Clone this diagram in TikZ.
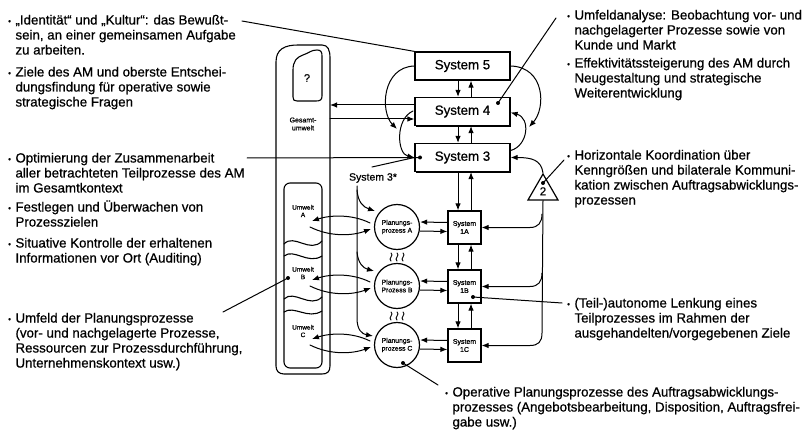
\documentclass[tikz,border=0pt]{standalone}
\usepackage{fontspec}
\setmainfont{Liberation Sans}[FakeBold=0.7]
\usetikzlibrary{arrows.meta,shadows,calc,shapes.geometric}
% hanging bullet and first-line strut for the text blocks
\newcommand{\bul}{\llap{\raisebox{0.6pt}{\fontsize{8}{8}\selectfont •}\hspace{4.5pt}}}
\newcommand{\fl}{\rule{0pt}{12pt}}

\begin{document}
\begin{tikzpicture}[x=1pt,y=1pt,line width=1pt,line cap=round,
  arr/.style={-{Latex[length=7pt,width=5.5pt]}},
  sysbox/.style={draw, fill=white, line width=1.2pt, minimum width=95pt,
    minimum height=28pt, inner sep=0pt, font=\fontsize{13.3}{15}\selectfont,
    general shadow={fill=black, shadow xshift=1.4pt, shadow yshift=-1.4pt}},
  subbox/.style={sysbox, minimum width=33pt, minimum height=33pt, align=center,
    font=\fontsize{7}{8}\selectfont},
  plan/.style={draw, circle, fill=white, line width=1.2pt, minimum size=45pt,
    inner sep=0pt, align=center, font=\fontsize{6.8}{7.8}\selectfont},
  txt/.style={anchor=north west, inner sep=0pt, align=left,
    font=\fontsize{13.3}{15}\selectfont},
  tiny/.style={inner sep=0pt, align=center, font=\fontsize{6.5}{7.5}\selectfont},
  squig/.style={line width=0.9pt},
  env/.style={line width=1.1pt},
]
\useasboundingbox (0,0) rectangle (809,-433);

% ---------- environment column ----------
\draw[env] (276,-366) -- (276,-62) .. controls (276,-49) and (285,-45) .. (298,-45)
  -- (322,-45) .. controls (328,-45) and (330,-50) .. (330,-58) -- (330,-366)
  .. controls (330,-372) and (327,-374) .. (322,-374) -- (284,-374)
  .. controls (279,-374) and (276,-371) .. (276,-366) -- cycle;
% overall environment blob
\draw[env] (293,-97) -- (293,-70) .. controls (293,-61) and (297,-57) .. (303,-55)
  .. controls (309,-53) and (311,-50) .. (317,-50) .. controls (321,-50) and (322,-52) .. (322,-56)
  -- (322,-96) .. controls (322,-100) and (320,-101) .. (316,-101) -- (297,-101)
  .. controls (294,-101) and (293,-100) .. (293,-97) -- cycle;
\node[font=\fontsize{11}{12}\selectfont, inner sep=0pt] (q) at (307,-78) {?};
\node[tiny, font=\fontsize{7}{8}\selectfont] (ges) at (303,-124) {Gesamt-\\umwelt};
% local environments A, B, C
\draw[env, rounded corners=6pt] (284,-183) rectangle (322,-368);
\draw[env] (284,-244) .. controls (294,-233) and (310,-254) .. (322,-241);
\draw[env] (284,-256) .. controls (294,-248) and (308,-265) .. (322,-256);
\draw[env] (284,-299) .. controls (294,-289) and (310,-309) .. (322,-297);
\draw[env] (284,-312) .. controls (294,-305) and (308,-320) .. (322,-311);
\node[tiny] (ua) at (303,-211) {Umwelt\\A};
\node[tiny] (ub) at (303,-273) {Umwelt\\B};
\node[tiny] (uc) at (303,-331) {Umwelt\\C};

% ---------- systems ----------
\node[sysbox] (s5) at (462.5,-66) {System 5};
\node[sysbox] (s4) at (462.5,-111.5) {System 4};
\node[sysbox] (s3) at (462.5,-157.5) {System 3};
\node[subbox] (s1a) at (464.5,-227.5) {System\\1A};
\node[subbox] (s1b) at (464.5,-286.5) {System\\1B};
\node[subbox] (s1c) at (464.5,-345.5) {System\\1C};
\node[plan] (pa) at (397,-227) {Planungs-\\prozess A};
\node[plan] (pb) at (397,-286) {Planungs-\\Prozess B};
\node[plan] (pc) at (397,-345) {Planungs-\\prozess C};
\node[regular polygon, regular polygon sides=3, draw, line width=1.2pt,
  minimum size=34.6pt, inner sep=0pt, font=\fontsize{11.5}{12}\selectfont]
  (tri) at (543,-191.3) {2};
\node[inner sep=0pt, font=\fontsize{10.5}{12}\selectfont] (s3s) at (373,-178) {System 3*};

% vertical command / feedback channels
\coordinate (xd) at (458,0);
\coordinate (xu) at (471,0);
\foreach \u/\l in {s5/s4, s4/s3, s3/s1a, s1a/s1b, s1b/s1c} {
  \draw[arr] (\u.south -| xd) -- (\l.north -| xd);
  \draw[arr] (\l.north -| xu) -- (\u.south -| xu);
}
% operations <-> local management
\foreach \p/\s in {pa/s1a, pb/s1b, pc/s1c} {
  \draw[arr] ($(\s.west)+(0,5)$) -- ($(\p.east)+(0,5)$);
  \draw[arr] ($(\p.east)+(0,-4)$) -- ($(\s.west)+(0,-4)$);
}
% operations <-> local environments
\foreach \yy in {227,286,345} {
  \draw[arr] (370,{-\yy+4}) .. controls (352,{-\yy+13}) and (330,{-\yy+12}) .. (312,{-\yy+6});
  \draw[arr] (310,{-\yy}) .. controls (330,{-\yy-10}) and (352,{-\yy-9}) .. (371,{-\yy-2});
}
% interaction between the operations
\foreach \y in {253,312} {
  \foreach \x in {391,397,403} {
    \draw[squig] (\x,-\y) .. controls (\x+3.5,-\y-2.5) and (\x-3.5,-\y-5.5) .. (\x,-\y-8);
  }
}
% System 4 <-> overall environment
\coordinate (ge1) at (330,-105);
\coordinate (ge2) at (330,-119);
\draw[arr] (s4.west |- ge1) -- (ge1);
\draw[arr] (ge2) -- (s4.west |- ge2);
% loops between 5, 4 and 3
\draw[arr] (s5.west) .. controls (382,-67) and (380,-112) .. (397,-129);
\draw[arr] (413,-111) .. controls (395,-119) and (397,-154) .. (s3.west);
\draw[arr] (s5.east) .. controls (545,-67) and (546,-108) .. (529,-127);
\draw[arr] ($(s3.east)+(0,7)$) .. controls (528,-146) and (531,-118) .. ($(s4.east)+(0,-1)$);
% coordination (2)
\draw[arr] (tri.corner 1) .. controls (541,-160) and (532,-157.5) .. (s3.east);
\draw[arr] (tri.side 2) -- (542,-333) .. controls (542,-342) and (538,-345.5) .. (530,-345.5) -- (s1c.east);
\draw[arr] (542,-214) .. controls (542,-223) and (538,-227.5) .. (530,-227.5) -- (s1a.east);
\draw[arr] (542,-273) .. controls (542,-282) and (538,-286.5) .. (530,-286.5) -- (s1b.east);
% System 3* audit channel
\coordinate (s3sl) at (372,-167);
\draw (s3sl) -- (s3.west);
\draw[arr] (357,-186) -- (357,-318) .. controls (357,-330) and (362,-334) .. (373,-336);
\draw[arr] (357,-190) .. controls (358,-202) and (363,-207) .. (375,-211);
\draw[arr] (357,-252) .. controls (358,-263) and (363,-268) .. (374,-271);

% ---------- explanatory texts ----------
\node[txt] (l1) at (15,-12) {\bul\fl„Identität“ und „Kultur“: das Bewußt-\\sein, an einer gemeinsamen Aufgabe\\zu arbeiten.};
\node[txt] (l2) at (15,-64) {\bul\fl Ziele des AM und oberste Entschei-\\dungsfindung für operative sowie\\strategische Fragen};
\node[txt] (l3) at (15,-150) {\bul\fl Optimierung der Zusammenarbeit\\aller betrachteten Teilprozesse des AM\\im Gesamtkontext};
\node[txt] (l4) at (15,-199) {\bul\fl Festlegen und Überwachen von\\Prozesszielen};
\node[txt] (l5) at (15,-235) {\bul\fl Situative Kontrolle der erhaltenen\\Informationen vor Ort (Auditing)};
\node[txt] (l6) at (15,-310) {\bul\fl Umfeld der Planungsprozesse\\(vor- und nachgelagerte Prozesse,\\Ressourcen zur Prozessdurchführung,\\Unternehmenskontext usw.)};
\node[txt] (r1) at (574,-7) {\bul\fl Umfeldanalyse: Beobachtung vor- und\\nachgelagerter Prozesse sowie von\\Kunde und Markt};
\node[txt] (r2) at (574,-55) {\bul\fl Effektivitätssteigerung des AM durch\\Neugestaltung und strategische\\Weiterentwicklung};
\node[txt] (r3) at (574,-147) {\bul\fl Horizontale Koordination über\\Kenngrößen und bilaterale Kommuni-\\kation zwischen Auftragsabwicklungs-\\prozessen};
\node[txt] (r4) at (574,-295) {\bul\fl (Teil-)autonome Lenkung eines\\Teilprozesses im Rahmen der\\ausgehandelten/vorgegebenen Ziele};
\node[txt] (b1) at (452,-384) {\bul\fl Operative Planungsprozesse des Auftragsabwicklungs-\\prozesses (Angebotsbearbeitung, Disposition, Auftragsfrei-\\gabe usw.)};

% ---------- callout lines ----------
\coordinate (c1) at (242,-21);
\draw (c1) -- (s5.north west);
\coordinate (c2) at (556,-18);  \coordinate (d2) at (498,-103);
\draw (c2) -- (d2); \fill (d2) circle (2pt);
\coordinate (c3) at (247,-158); \coordinate (d3) at (420,-157.5);
\draw (c3) -- (d3); \fill (d3) circle (2pt);
\coordinate (c4) at (564,-160); \coordinate (d4) at (543,-183);
\draw (c4) -- (d4); \fill (d4) circle (2pt);
\coordinate (c5) at (562,-303); \coordinate (d5) at (473,-297);
\draw (c5) -- (d5); \fill (d5) circle (2pt);
\coordinate (c6) at (438,-385); \coordinate (d6) at (403,-363);
\draw (c6) -- (d6); \fill (d6) circle (2pt);
\coordinate (c7) at (223,-312); \coordinate (d7) at (288,-278);
\draw (c7) -- (d7); \fill (d7) circle (2pt);
\end{tikzpicture}
\end{document}
